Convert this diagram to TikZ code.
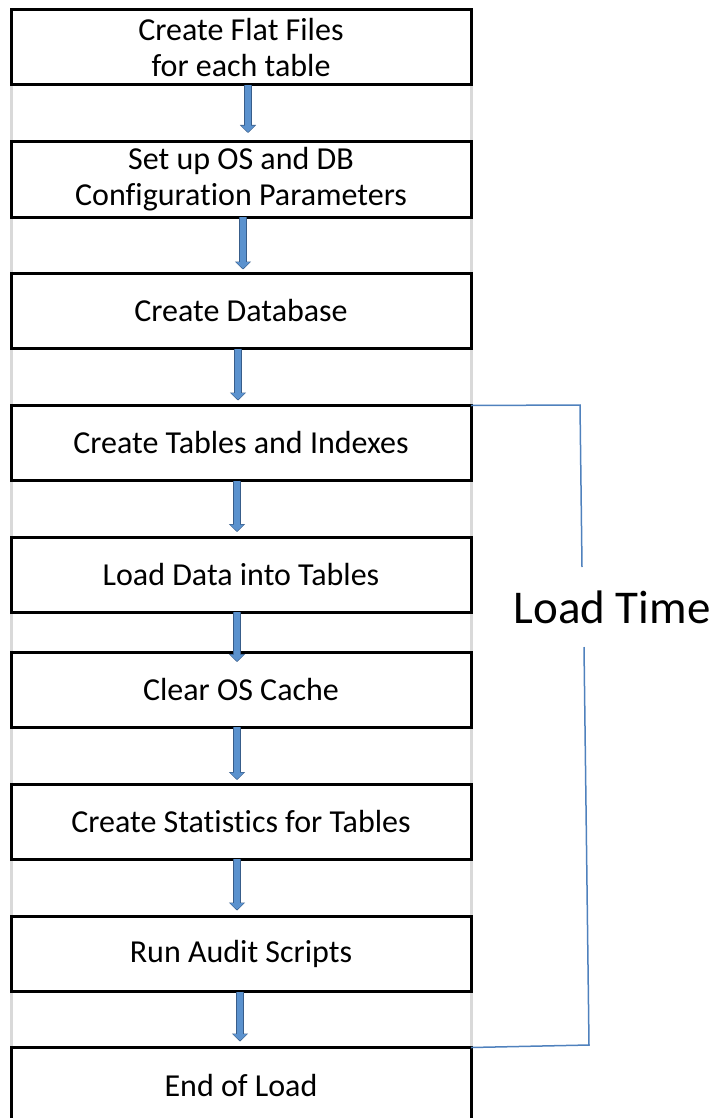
\documentclass[tikz,border=0pt]{standalone}
\usepackage{fontspec}
\setmainfont{Carlito}[RawFeature={-liga}]
\usetikzlibrary{arrows.meta}
\definecolor{arrowblue}{RGB}{91,146,206}
\definecolor{arrowedge}{RGB}{56,93,138}
\definecolor{linegray}{RGB}{217,217,217}
\definecolor{brackblue}{RGB}{79,129,189}
\tikzset{
	stepbox/.style={draw=black, line width=3pt, fill=white, minimum width=460pt, minimum height=75pt, outer sep=0pt, align=center, font=\fontsize{32}{36}\selectfont},
	flowarrow/.style={line width=8pt, draw=arrowedge, -{Triangle[length=8pt,width=16pt]},
		postaction={draw=arrowblue, line width=6pt, -{Triangle[length=6.5pt,width=13pt]}, shorten >=0.8pt}},
	loadline/.style={draw=brackblue, line width=1.5pt}
}

\begin{document}
\begin{tikzpicture}[x=1pt, y=-1pt]
			%%%%% START %%%%%
			\clip (0, 0) rectangle (712, 1118);
			
			\draw[line width=3pt, color=linegray] (11, 11) -- (11, 1118);
			\draw[line width=3pt, color=linegray] (471, 11) -- (471, 1118);
			
			\node[stepbox] (b1) at (241, 47.5) {Create Flat Files\\for each table};
			\node[stepbox] (b2) at (241, 179.5) {Set up OS and DB\\Configuration Parameters};
			\node[stepbox] (b3) at (241, 311) {Create Database};
			\node[stepbox] (b4) at (241, 443) {Create Tables and Indexes};
			\node[stepbox] (b5) at (241, 574.5) {Load Data into Tables};
			\node[stepbox] (b6) at (241, 689.5) {Clear OS Cache};
			\node[stepbox] (b7) at (241, 821.5) {Create Statistics for Tables};
			\node[stepbox] (b8) at (241, 954) {Run Audit Scripts};
			\node[stepbox] (b9) at (241, 1085) {End of Load};
			
			\draw[flowarrow] ([xshift=7pt]b1.south) -- ([xshift=7pt, yshift=9pt]b2.north);
			\draw[flowarrow] ([xshift=2pt]b2.south) -- ([xshift=2pt, yshift=4pt]b3.north);
			\draw[flowarrow] ([xshift=-3pt]b3.south) -- ([xshift=-3pt, yshift=5pt]b4.north);
			\draw[flowarrow] ([xshift=-4pt]b4.south) -- ([xshift=-4pt, yshift=5pt]b5.north);
			\draw[flowarrow] ([xshift=-4pt]b5.south) -- ([xshift=-4pt, yshift=-10pt]b6.north);
			\draw[flowarrow] ([xshift=-4pt]b6.south) -- ([xshift=-4pt, yshift=4pt]b7.north);
			\draw[flowarrow] ([xshift=-4pt]b7.south) -- ([xshift=-4pt, yshift=6pt]b8.north);
			\draw[flowarrow] ([xshift=-1pt]b8.south) -- ([xshift=-1pt, yshift=6pt]b9.north);
			
			% bracket round the load steps
			\node[font=\fontsize{47}{56}\selectfont] (lt) at (612, 607) {Load Time};
			\coordinate (ltop) at (580, 405);
			\coordinate (lgap1) at (582, 567);
			\coordinate (lgap2) at (584, 647);
			\coordinate (lbot) at (589, 1045);
			\draw[loadline] (b4.north east) -- (ltop) -- (lgap1);
			\draw[loadline] (lgap2) -- (lbot) -- (b9.north east);
			
			%%%%% END %%%%%
		\end{tikzpicture}
\end{document}
